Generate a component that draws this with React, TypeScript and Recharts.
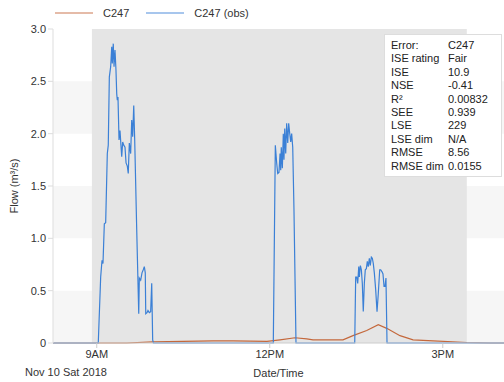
import { LineChart, Line, XAxis, YAxis, ReferenceArea, Legend, Label } from "recharts";

// time in minutes since midnight, flow in m3/s
const obsTime = [
  494.5, 541.6, 544.1, 545.5, 546.5, 547.9, 549.3, 551.0, 552.0, 553.1, 554.5, 555.6, 556.2, 557.2, 558.0, 559.0,
  560.0, 560.8, 561.4, 562.1, 563.2, 564.2, 564.9, 566.0, 567.0, 568.1, 569.4, 570.5, 571.8, 572.8, 573.9, 575.3,
  576.4, 577.4, 578.5, 579.5, 581.6, 583.7, 584.3, 585.7, 587.1, 588.4, 589.5, 590.5, 591.0, 592.3, 593.3, 594.7,
  596.1, 597.2, 598.2, 599.0,
  723.7, 725.8, 727.2, 728.3, 729.6, 730.7, 731.4, 732.0, 733.1, 734.1, 734.8, 735.6, 736.6, 737.6, 738.7, 739.7,
  740.8, 741.8, 742.8, 743.9, 745.2, 747.3,
  808.4, 809.4, 810.5, 811.5, 812.6, 813.2, 814.3, 815.3, 816.3, 817.3, 818.4, 819.4, 820.5, 821.5, 822.5, 823.6,
  824.6, 825.7, 826.7, 827.7, 828.8, 830.2, 831.6, 832.9, 834.4, 835.4, 836.8, 837.8, 838.9, 839.9, 840.9, 842.0,
  963.7,
];
const obsFlow = [
  0, 0, 0.63, 0.79, 0.76, 1.14, 1.15, 1.81, 1.89, 2.54, 2.64, 2.83, 2.67, 2.86, 2.64, 2.8,
  2.61, 2.38, 2.32, 2.35, 1.94, 2.03, 1.93, 1.78, 1.92, 1.89, 1.87, 1.72, 1.69, 1.62, 1.91, 1.81,
  2.13, 1.97, 2.27, 1.94, 1.08, 0.28, 0.62, 0.6, 0.67, 0.7, 0.73, 0.67, 0.28, 0.29, 0.31, 0.29,
  0.3, 0.57, 0.03, 0,
  0, 1.89, 1.72, 1.62, 1.63, 1.81, 1.65, 1.87, 1.67, 2.0, 1.75, 2.05, 1.81, 2.1, 1.91, 2.1,
  2.0, 1.92, 2.0, 1.87, 1.27, 0,
  0, 0.63, 0.63, 0.57, 0.73, 0.63, 0.74, 0.7, 0.57, 0.3, 0.57, 0.7, 0.71, 0.78, 0.73, 0.81,
  0.74, 0.82, 0.81, 0.76, 0.67, 0.51, 0.3, 0.47, 0.7, 0.7, 0.68, 0.66, 0.54, 0.54, 0.62, 0,
  0,
];

const modelTime = [494.5, 571.2, 598.5, 661, 681.8, 717.1, 730.7, 746.3, 758.5, 765, 785.8, 796.2, 806.6, 820.9, 832.9, 841.7, 855.5, 869.1, 889.9, 925.2, 949.2, 963.7];
const modelFlow = [0, 0, 0.01, 0.02, 0.02, 0.015, 0.03, 0.05, 0.04, 0.03, 0.03, 0.03, 0.07, 0.12, 0.175, 0.14, 0.07, 0.03, 0.02, 0.005, 0, 0];

const xTicks = [540, 720, 900];
const xTickLabels = ["9AM", "12PM", "3PM"];
const yTicks = [0, 0.5, 1, 1.5, 2, 2.5, 3];
const bands = [[0, 0.5], [1, 1.5], [2, 2.5]];
const analysisWindow = [535, 925];

const statNames = ["Error:", "ISE rating", "ISE", "NSE", "R²", "SEE", "LSE", "LSE dim", "RMSE", "RMSE dim"];
const statValues = ["C247", "Fair", "10.9", "-0.41", "0.00832", "0.939", "229", "N/A", "8.56", "0.0155"];

const MODEL = "#c4683c";
const OBS = "#3b80d6";
const FONT = "'Liberation Sans', Arial, sans-serif";

const obsData = obsTime.map((t, i) => ({ t, v: obsFlow[i] }));
const modelData = modelTime.map((t, i) => ({ t, v: modelFlow[i] }));

const LegendBox = () => (
  <div style={{ display: "flex", alignItems: "center", fontFamily: FONT, fontSize: 11, color: "#333", paddingLeft: 55 }}>
    <svg width={38} height={4}><line x1={0} y1={2} x2={38} y2={2} stroke={MODEL} strokeOpacity={0.6} strokeWidth={1.5} /></svg>
    <span style={{ marginLeft: 10, marginRight: 17 }}>C247</span>
    <svg width={38} height={4}><line x1={0} y1={2} x2={38} y2={2} stroke={OBS} strokeOpacity={0.6} strokeWidth={1.5} /></svg>
    <span style={{ marginLeft: 10 }}>C247 (obs)</span>
  </div>
);

export default function App() {
  const tick = { fontSize: 11, fill: "#333", fontFamily: FONT };
  return (
    <div style={{ position: "absolute", left: 0, top: 0, width: 504, height: 382, background: "#fff", fontFamily: FONT }}>
      <LineChart width={504} height={382} margin={{ top: 7, right: 0, bottom: 0, left: 0 }}>
        <Legend verticalAlign="top" height={22} content={() => <LegendBox />} wrapperStyle={{ left: 0, width: 504 }} />
        <XAxis
          dataKey="t"
          type="number"
          domain={[494.5, 963.7]}
          allowDataOverflow
          ticks={xTicks}
          tickFormatter={(v: number) => xTickLabels[xTicks.indexOf(v)]}
          tick={tick}
          tickSize={5}
          stroke="#ccc"
          height={39}
        >
          <Label value="Date/Time" position="insideBottom" offset={5} style={{ fontSize: 11, fill: "#333", fontFamily: FONT }} />
          <Label
            content={() => (
              <text x={25} y={376} fontSize={11} fill="#333" fontFamily={FONT}>Nov 10 Sat 2018</text>
            )}
          />
        </XAxis>
        <YAxis
          type="number"
          domain={[0, 3]}
          ticks={yTicks}
          tickFormatter={(v: number) => (v === 0 ? "0" : v.toFixed(1))}
          tick={tick}
          tickSize={5}
          stroke="#ddd"
          width={53}
        >
          <Label
            content={() => (
              <text x={18} y={186} fontSize={11} fill="#333" fontFamily={FONT} textAnchor="middle" transform="rotate(-90 18 186)">
                Flow (m³/s)
              </text>
            )}
          />
        </YAxis>
        {bands.map((b, i) => (
          <ReferenceArea key={i} y1={b[0]} y2={b[1]} fill="#f6f6f6" fillOpacity={1} stroke="none" ifOverflow="hidden" />
        ))}
        <ReferenceArea x1={analysisWindow[0]} x2={analysisWindow[1]} fill="#e5e5e5" fillOpacity={1} stroke="none" />
        <Line data={modelData} dataKey="v" stroke={MODEL} strokeWidth={1.2} dot={false} isAnimationActive={false} />
        <Line data={obsData} dataKey="v" stroke={OBS} strokeWidth={1.2} dot={false} isAnimationActive={false} />
      </LineChart>
      <div
        style={{
          position: "absolute",
          left: 384,
          top: 34,
          width: 104,
          padding: "4px 6px 3px 6px",
          background: "#fff",
          border: "1px solid #ddd",
          fontSize: 11,
          lineHeight: "13.4px",
          color: "#222",
        }}
      >
        {statNames.map((n, i) => (
          <div key={n} style={{ display: "flex" }}>
            <span style={{ width: 57, flexShrink: 0 }}>{n}</span>
            <span>{statValues[i]}</span>
          </div>
        ))}
      </div>
    </div>
  );
}
